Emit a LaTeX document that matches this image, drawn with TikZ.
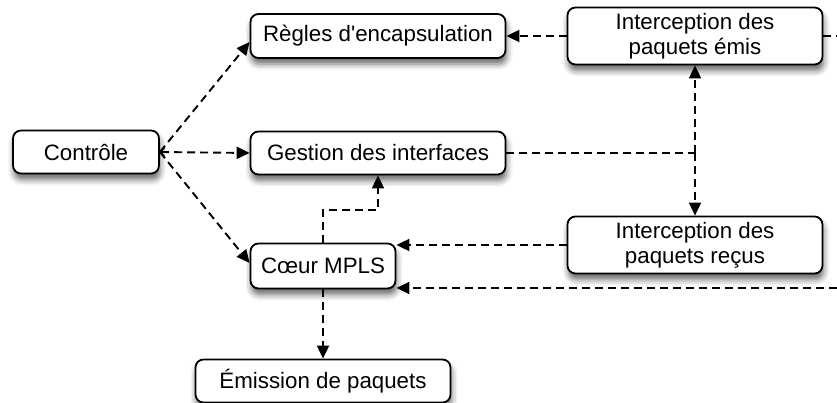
\documentclass[tikz,border=0pt]{standalone}
\usepackage{fontspec}
\setmainfont{Liberation Sans}[Ligatures=TeXOff]
\usetikzlibrary{arrows.meta,shadows.blur,calc}
\begin{document}
\begin{tikzpicture}[x=1pt,y=-1pt,
  box/.style={draw, line width=1.8pt, rounded corners=8pt, fill=white, align=center,
    font=\fontsize{22.3}{25}\selectfont, inner sep=0pt,
    blur shadow={shadow xshift=1pt, shadow yshift=-6pt, shadow blur radius=6pt, shadow opacity=60}},
  conn/.style={draw, line width=1.9pt, dash pattern=on 8pt off 5pt},
  tip/.style={-{Triangle[length=13pt,width=12pt]}}]
\useasboundingbox (0,0) rectangle (837,403);
\node[box, minimum width=146pt, minimum height=43pt] (ctl) at (86,152) {Contrôle};
\node[box, minimum width=255pt, minimum height=44pt] (regles) at (378,36) {Règles d'encapsulation};
\node[box, minimum width=255pt, minimum height=43pt] (gest) at (378,153) {Gestion des interfaces};
\node[box, minimum width=255pt, minimum height=57pt] (emis) at (695,36) {Interception des\\paquets émis};
\node[box, minimum width=255pt, minimum height=57pt] (recus) at (695,245) {Interception des\\paquets reçus};
\node[box, minimum width=145pt, minimum height=45pt] (coeur) at (323,266) {Cœur MPLS};
\node[box, minimum width=255pt, minimum height=43pt] (emiss) at (323,381) {Émission de paquets};
\coordinate (rout) at (837,36);
\coordinate (rin) at (837,288);
\coordinate (j) at (emis.south |- gest.east);
% from Contrôle
\draw[conn,tip] (ctl.east) -- ($(regles.west)+(0,6)$);
\draw[conn,{Straight Barb[length=4pt,width=8pt,line width=1pt]}-{Triangle[length=13pt,width=12pt]}] (ctl.east) -- (gest.west);
\draw[conn,tip] (ctl.east) -- ($(coeur.west)+(0,-3)$);
% interception émis
\draw[conn,tip] (emis.west) -- (regles.east);
\draw[conn] (emis.east) -- (rout);
% gestion to interceptions
\draw[conn] (gest.east) -- (j);
\draw[conn,tip] (j) -- (emis.south);
\draw[conn,tip] (j) -- (recus.north);
% into coeur
\draw[conn,tip] (recus.west) -- (recus.west -| coeur.east);
\draw[conn,tip] (rin) -- (rin -| coeur.east);
% coeur out
\draw[conn,tip] (coeur.north) -- ++(0,-33) -| (gest.south);
\draw[conn,tip] (coeur.south) -- (emiss.north);
\end{tikzpicture}
\end{document}
